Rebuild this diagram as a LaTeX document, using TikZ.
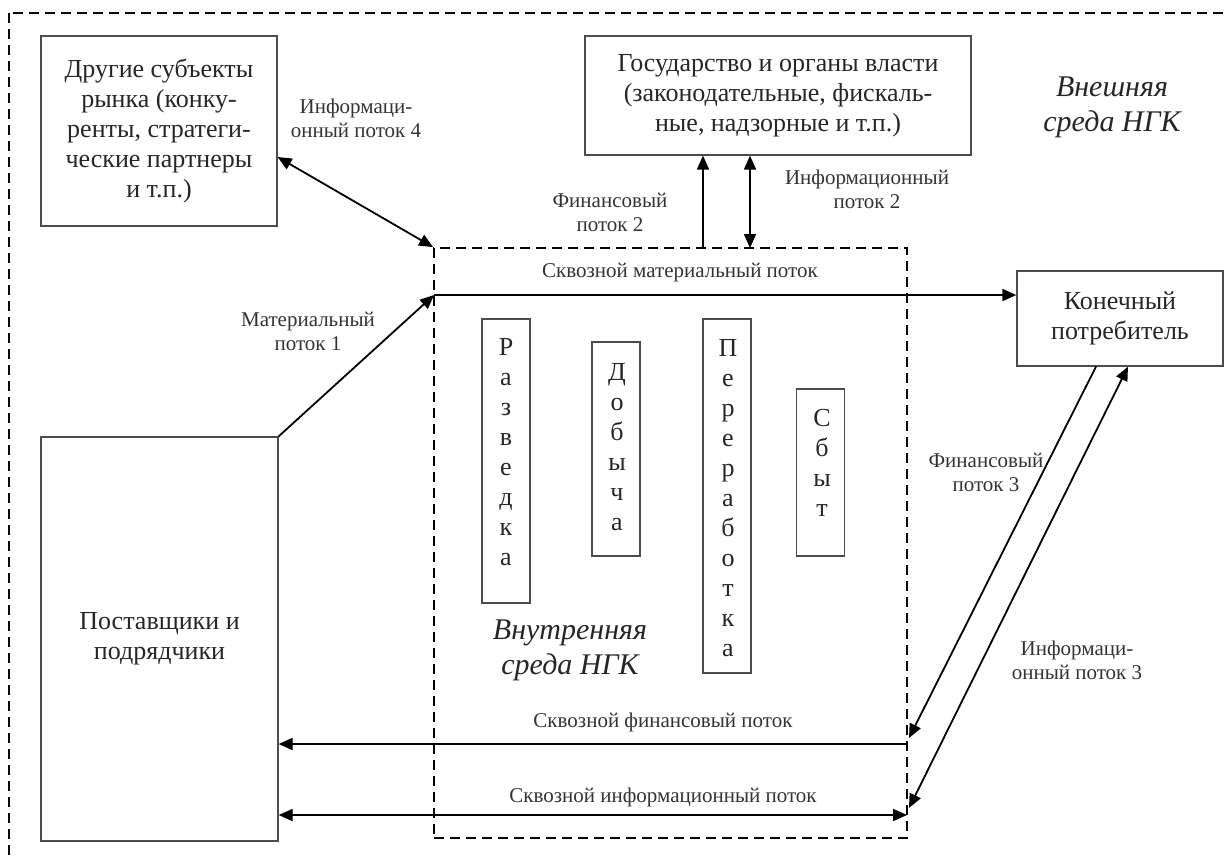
\documentclass[tikz,border=0pt]{standalone}
\usepackage{fontspec}
\setmainfont{Liberation Serif}
\usetikzlibrary{arrows.meta,calc}

\tikzset{
  blk/.style={draw=black!70, line width=0.6pt, align=center, inner sep=2pt, font=\fontsize{13}{15}\selectfont, text=black!85},
  stagebox/.style={draw=black!70, line width=0.6pt, minimum width=24pt, inner sep=0pt},
  letters/.style={align=center, inner sep=0pt, font=\fontsize{13}{15}\selectfont, text=black!85},
  lbl/.style={align=center, inner sep=0.75pt, font=\fontsize{10.5}{12}\selectfont, text=black!80},
  env/.style={align=center, inner sep=0.75pt, font=\fontsize{15}{17.5}\selectfont\itshape, text=black!85},
  zone/.style={draw, dash pattern={on 5pt off 3pt}, line width=0.9pt},
  flow/.style={line width=0.9pt, -{Triangle[length=7pt,width=6pt]}},
  flowboth/.style={line width=0.9pt, {Triangle[length=7pt,width=6pt]}-{Triangle[length=7pt,width=6pt]}},
}

\begin{document}
\begin{tikzpicture}[x=0.5pt,y=0.5pt,yscale=-1,xscale=1]
\clip (0,0) rectangle (1227,859);

%Shape: Rectangle [outer environment]
\draw[zone] (9,13) rectangle (1245,880);

% Blocks
\node[blk, minimum width=118pt, minimum height=95pt] (other) at (159,131) {Другие субъекты\\рынка (конку-\\ренты, стратеги-\\ческие партнеры\\и т.п.)};
\node[blk, minimum width=193pt, minimum height=59.5pt] (gos) at (778,95.5) {Государство и органы власти\\(законодательные, фискаль-\\ные, надзорные и т.п.)};
\node[blk, minimum width=103pt, minimum height=47.5pt] (cons) at (1120,318.5) {Конечный\\потребитель};
\node[blk, minimum width=118.5pt, minimum height=202pt] (supp) at (159.5,639) {Поставщики и\\подрядчики};

%Shape: Rectangle [inner environment]
\node[zone, minimum width=236.5pt, minimum height=295pt, inner sep=0pt] (inner) at (670.5,543) {};

% Stages
\node[stagebox, minimum height=142pt] (razv) at (506,461) {};
\node[letters] (razvT) at (506,452.5) {Р\\а\\з\\в\\е\\д\\к\\а};
\node[stagebox, minimum height=107pt] (dob) at (616,449) {};
\node[letters] (dobT) at (617,447.5) {Д\\о\\б\\ы\\ч\\а};
\node[stagebox, minimum height=177pt] (perer) at (727,496) {};
\node[letters] (pererT) at (728,498.5) {П\\е\\р\\е\\р\\а\\б\\о\\т\\к\\а};
\node[stagebox, minimum height=83.5pt] (sbyt) at (820.5,472.5) {};
\node[letters] (sbytT) at (822,462.5) {С\\б\\ы\\т};

% Free ends
\coordinate (matIn) at (434,295);
\coordinate (fin2) at (703,248);
\coordinate (inf2) at (750,248);
\coordinate (finR) at (907,744);
\coordinate (infR) at (907,815);

% Connections
\draw[flowboth] ($(other.east)+(0,26)$) -- (inner.north west);
\draw[flow] (supp.north east) -- (matIn);
\draw[flow] (matIn) -- (matIn -| cons.west);
\draw[flow] (fin2) -- (fin2 |- gos.south);
\draw[flowboth] (inf2) -- (inf2 |- gos.south);
\draw[flow] ($(cons.south)+(-24,0)$) -- ($(finR)+(2,-6)$);
\draw[flow] (finR) -- (finR -| supp.east);
\draw[flowboth] ($(cons.south)+(8,0)$) -- ($(infR)+(2,-7)$);
\draw[flowboth] (infR -| supp.east) -- (infR);

% Text Node
\node[lbl] (lInf4) at (356,118) {Информаци-\\онный поток 4};
\node[lbl] (lFin2) at (610,212) {Финансовый\\поток 2};
\node[lbl] (lInf2) at (867,189) {Информационный\\поток 2};
\node[lbl] (lMat1) at (308,331) {Материальный\\поток 1};
\node[lbl] (lMatT) at (680,273) {Сквозной материальный поток};
\node[lbl] (lFin3) at (986,472) {Финансовый\\поток 3};
\node[lbl] (lInf3) at (1077,660) {Информаци-\\онный поток 3};
\node[lbl] (lFinT) at (663,722) {Сквозной финансовый поток};
\node[lbl] (lInfT) at (663,797) {Сквозной информационный поток};
\node[env] (outerT) at (1112,107) {Внешняя\\среда НГК};
\node[env] (innerT) at (570,650) {Внутренняя\\среда НГК};

\end{tikzpicture}
\end{document}
